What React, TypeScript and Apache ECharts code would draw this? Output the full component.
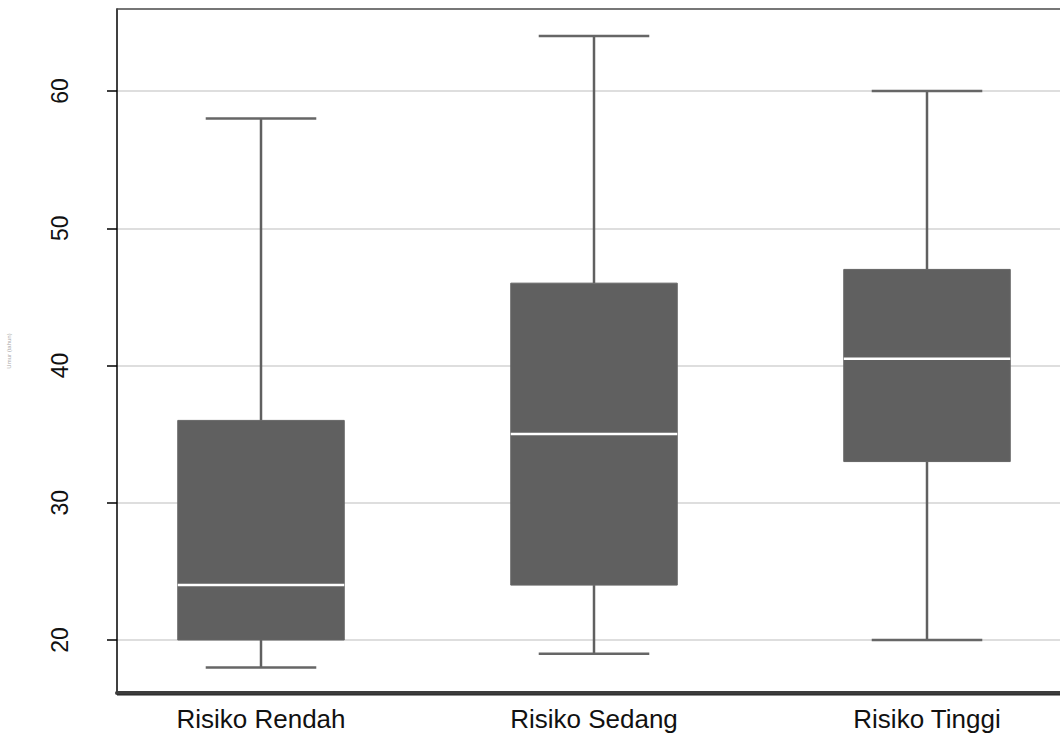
import React, { useEffect, useRef } from "react";
import * as echarts from "echarts";

const categories = ["Risiko Rendah", "Risiko Sedang", "Risiko Tinggi"];
const minValues = [18, 19, 20];
const q1Values = [20, 24, 33];
const medianValues = [24, 35, 40.5];
const q3Values = [36, 46, 47];
const maxValues = [58, 64, 60];
const yTicks = [20, 30, 40, 50, 60];
const yTitle = "Umur (tahun)";

const Y_MIN = 16.138;
const Y_MAX = 65.974;

export default function App() {
  const ref = useRef<HTMLDivElement>(null);
  useEffect(() => {
    if (!ref.current) return;
    const chart = echarts.init(ref.current, undefined, { renderer: "svg" });
    const boxData = categories.map((_, i) => [
      i,
      minValues[i],
      q1Values[i],
      medianValues[i],
      q3Values[i],
      maxValues[i],
    ]);
    const font = "'Liberation Sans', Arial, Helvetica, sans-serif";
    chart.setOption({
      animation: false,
      backgroundColor: "#ffffff",
      grid: [
        { left: 117, right: -20, top: 9, bottom: 47, outerBoundsMode: "none", containLabel: false },
        { left: 94.5, width: 999, top: 9, bottom: 47, outerBoundsMode: "none", containLabel: false },
        { left: 117, right: -20, top: -46.25, bottom: -37.25, outerBoundsMode: "none", containLabel: false },
      ],
      xAxis: [
        {
          gridIndex: 0,
          type: "value",
          min: 0,
          max: 1,
          position: "bottom",
          axisLine: { show: true, onZero: false, lineStyle: { color: "#3c3c3c", width: 4 } },
          axisTick: { show: false },
          axisLabel: { show: false },
          splitLine: { show: false },
        },
        {
          gridIndex: 0,
          type: "value",
          min: 0,
          max: 1,
          position: "top",
          axisLine: { show: true, onZero: false, lineStyle: { color: "#4a4a4a", width: 1.5 } },
          axisTick: { show: false },
          axisLabel: { show: false },
          splitLine: { show: false },
        },
        {
          gridIndex: 1,
          type: "category",
          data: categories,
          boundaryGap: true,
          axisLine: { show: false },
          axisTick: { show: false },
          splitLine: { show: false },
          axisLabel: {
            show: true,
            margin: 13,
            fontSize: 26,
            color: "#111111",
            fontFamily: font,
          },
        },
        {
          gridIndex: 2,
          type: "value",
          min: 0,
          max: 1,
          show: false,
          splitLine: { show: false },
        },
      ],
      yAxis: [
        {
          gridIndex: 0,
          type: "value",
          min: 0,
          max: 1,
          name: yTitle,
          nameLocation: "middle",
          nameRotate: 90,
          nameGap: 105,
          nameTextStyle: { fontSize: 6, color: "#aaaaaa", fontFamily: font },
          axisLine: { show: true, onZero: false, lineStyle: { color: "#000000", width: 1.5 } },
          axisTick: { show: false },
          axisLabel: { show: false },
          splitLine: { show: false },
        },
        {
          gridIndex: 1,
          type: "value",
          min: Y_MIN,
          max: Y_MAX,
          show: false,
          splitLine: { show: false },
        },
        {
          gridIndex: 2,
          type: "value",
          min: 10,
          max: 70,
          interval: 10,
          axisLine: { show: false },
          axisTick: { show: true, length: 10, lineStyle: { color: "#000000", width: 1.5 } },
          axisLabel: {
            show: true,
            rotate: 90,
            margin: 46,
            fontSize: 23,
            color: "#111111",
            fontFamily: font,
            formatter: (v: number) => (yTicks.includes(v) ? String(v) : ""),
          },
          splitLine: { show: true, lineStyle: { color: "#dedede", width: 2 } },
        },
      ],
      graphic: [
        {
          type: "line",
          shape: { x1: 117, y1: 695, x2: 1060, y2: 695 },
          style: { stroke: "#222222", lineWidth: 1 },
          z: 10,
        },
      ],
      series: [
        {
          type: "custom",
          xAxisIndex: 2,
          yAxisIndex: 1,
          data: boxData,
          encode: { x: 0, y: [1, 2, 3, 4, 5] },
          z: 5,
          renderItem: (params: any, api: any) => {
            const idx = api.value(0);
            const pMin = api.coord([idx, api.value(1)]);
            const pQ1 = api.coord([idx, api.value(2)]);
            const pMed = api.coord([idx, api.value(3)]);
            const pQ3 = api.coord([idx, api.value(4)]);
            const pMax = api.coord([idx, api.value(5)]);
            const band = api.size([1, 0])[0];
            const bh = band * 0.25;
            const ch = band * 0.166;
            const cx = pMin[0];
            const stroke = "#606060";
            return {
              type: "group",
              children: [
                { type: "line", shape: { x1: cx, y1: pMin[1], x2: cx, y2: pQ1[1] }, style: { stroke, lineWidth: 2.5 } },
                { type: "line", shape: { x1: cx, y1: pQ3[1], x2: cx, y2: pMax[1] }, style: { stroke, lineWidth: 2.5 } },
                { type: "line", shape: { x1: cx - ch, y1: pMin[1], x2: cx + ch, y2: pMin[1] }, style: { stroke: "#666666", lineWidth: 2.5 } },
                { type: "line", shape: { x1: cx - ch, y1: pMax[1], x2: cx + ch, y2: pMax[1] }, style: { stroke: "#666666", lineWidth: 2.5 } },
                {
                  type: "rect",
                  shape: { x: cx - bh, y: pQ3[1], width: bh * 2, height: pQ1[1] - pQ3[1] },
                  style: { fill: "#606060", stroke: "#656565", lineWidth: 1 },
                },
                { type: "line", shape: { x1: cx - bh, y1: pMed[1], x2: cx + bh, y2: pMed[1] }, style: { stroke: "#ffffff", lineWidth: 2.5 } },
              ],
            };
          },
        },
      ],
    });
    return () => chart.dispose();
  }, []);
  return (
    <div
      ref={ref}
      style={{ position: "absolute", left: 0, top: 0, width: 1060, height: 740 }}
    />
  );
}
